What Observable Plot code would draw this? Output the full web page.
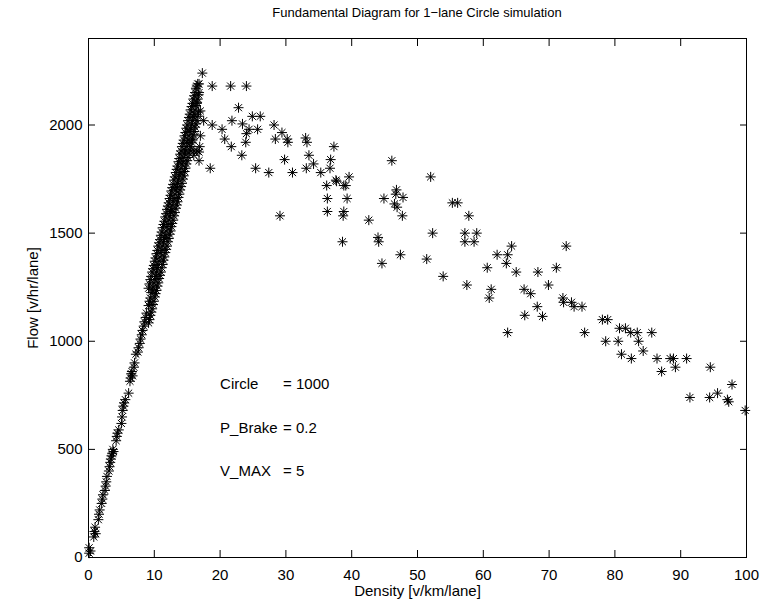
<!DOCTYPE html>
<html>
<head>
<meta charset="utf-8">
<script src="https://cdn.jsdelivr.net/npm/d3@7"></script>
<script src="https://cdn.jsdelivr.net/npm/@observablehq/plot@0.6"></script>
<style>
  html, body { margin: 0; padding: 0; background: #fff; }
  body { width: 776px; height: 602px; overflow: hidden; font-family: "Liberation Sans", Arial, sans-serif; }
  #title { height: 26px; line-height: 26px; margin-left: 88px; width: 658px; text-align: center; font-size: 13px; color: #000; }
  svg { display: block; }
</style>
</head>
<body>
<div id="title">Fundamental Diagram for 1−lane Circle simulation</div>
<div id="chart"></div>
<script>
// ---- data (density [v/km/lane], flow [v/hr/lane]) ----
// congested branch
const congestedDensity = [17.3,16.8,18.8,21.6,24.0,22.8,24.9,26.1,21.8,17.5,18.8,20.3,23.4,24.4,25.7,24.0,20.7,23.9,21.7,23.3,18.5,28.2,29.4,28.4,30.2,30.3,33.0,33.2,37.3,33.5,29.8,36.8,34.2,33.1,25.4,27.4,31.0,35.3,36.7,37.6,39.6,36.2,38.8,46.1,52.0,37.7,39.1,36.3,39.3,36.3,38.8,38.7,44.9,46.8,46.7,47.8,46.5,46.9,47.7,42.6,55.3,56.1,57.8,38.6,44.0,44.1,52.3,57.2,59.0,57.2,58.6,64.3,62.1,63.7,63.5,60.6,65.0,68.3,44.6,47.4,51.4,53.9,57.5,61.2,60.9,66.2,67.2,68.2,66.3,72.6,71.1,69.9,69.0,72.1,72.2,73.4,73.8,75.0,75.4,78.1,78.9,78.6,80.5,80.7,81.6,82.4,83.4,85.6,83.6,84.3,81.0,82.5,86.4,87.1,88.4,88.9,90.9,89.2,94.5,97.8,91.4,94.4,95.6,97.1,97.3,99.8,29.1,16.8,16.8,16.0,16.5,17.0,16.8,16.5,15.8,16.0,17.0,16.9,63.7];
const congestedFlow = [2240,2190,2180,2180,2180,2080,2040,2040,2020,2020,2000,1980,2005,1980,1980,1960,1935,1920,1900,1860,1800,2000,1965,1935,1935,1920,1940,1920,1900,1860,1840,1840,1820,1800,1800,1780,1780,1780,1800,1745,1760,1720,1720,1835,1760,1740,1720,1660,1660,1600,1600,1580,1660,1700,1680,1665,1635,1620,1580,1560,1640,1640,1580,1460,1480,1460,1500,1500,1500,1460,1460,1440,1400,1400,1360,1340,1320,1320,1360,1400,1380,1300,1260,1240,1200,1240,1220,1160,1120,1440,1340,1260,1115,1200,1180,1180,1160,1160,1040,1100,1100,1000,1000,1060,1060,1040,1040,1040,1000,955,940,920,920,860,920,920,920,880,880,800,740,740,760,730,720,680,1580,1875,1835,1880,2105,2065,2150,1880,1930,1860,1950,1900,1040];
// free-flow branch
const freeDensity = [0.1,0.1,0.3,0.8,0.9,1.0,1.1,1.5,1.6,1.7,2.0,2.1,2.2,2.5,2.6,2.7,2.8,3.1,3.2,3.3,3.4,3.5,3.6,3.7,3.8,4.2,4.3,4.4,4.6,5.0,5.1,5.2,5.3,5.4,5.6,6.1,6.3,6.4,6.5,6.6,6.7,6.9,7.0,7.2,7.5,7.6,7.8,7.9,8.1,8.2,8.4,8.5,8.7,8.8,
  9.13,9.13,9.13,9.27,9.27,9.27,9.4,9.4,9.4,9.53,9.53,9.53,9.67,9.67,9.67,9.8,9.8,9.8,9.93,9.93,9.93,10.07,10.07,10.07,10.2,10.2,10.2,10.33,10.33,10.33,10.47,10.47,10.47,10.6,10.6,10.6,10.73,10.73,10.73,10.87,10.87,10.87,11.0,11.0,11.0,11.13,11.13,11.13,11.27,11.27,11.27,11.4,11.4,11.4,11.53,11.53,11.53,11.67,11.67,11.67,11.8,11.8,11.8,11.93,11.93,11.93,12.07,12.07,12.07,12.2,12.2,12.2,12.33,12.33,12.33,12.47,12.47,12.47,12.6,12.6,12.6,12.73,12.73,12.73,12.87,12.87,12.87,13.0,13.0,13.0,13.13,13.13,13.13,13.27,13.27,13.27,13.4,13.4,13.4,13.53,13.53,13.53,13.67,13.67,13.67,13.8,13.8,13.8,13.93,13.93,13.93,14.07,14.07,14.07,14.2,14.2,14.2,14.33,14.33,14.33,14.47,14.47,14.47,14.6,14.6,14.6,14.73,14.73,14.73,14.87,14.87,14.87,15.0,15.0,15.0,15.13,15.13,15.13,15.27,15.27,15.27,15.4,15.4,15.4,15.53,15.53,15.53,15.67,15.67,15.67,15.8,15.8,15.8,15.93,15.93,15.93,16.07,16.07,16.07,16.2,16.2,16.2,16.33,16.33,16.33,16.47,16.47,16.47,16.6,16.6,16.6,16.73,16.73];
const freeFlow = [20,45,30,95,120,140,110,175,200,220,250,270,290,310,330,350,375,400,420,440,455,470,480,500,490,540,560,575,590,620,650,680,700,715,730,760,815,830,850,860,840,880,900,940,950,970,990,1010,1030,1050,1070,1090,1110,1130,
  1085,1165,1245,1100,1185,1265,1120,1200,1285,1135,1225,1300,1150,1240,1320,1170,1250,1335,1185,1270,1350,1205,1285,1370,1220,1300,1385,1235,1320,1405,1255,1340,1420,1270,1355,1440,1290,1370,1455,1305,1390,1470,1320,1410,1490,1340,1420,1505,1355,1440,1525,1375,1460,1540,1390,1480,1555,1410,1490,1575,1425,1510,1590,1440,1530,1610,1460,1540,1625,1475,1560,1640,1495,1580,1660,1510,1600,1675,1530,1610,1695,1545,1630,1710,1560,1650,1725,1580,1660,1745,1595,1680,1760,1615,1700,1780,1630,1710,1795,1645,1730,1810,1665,1750,1830,1680,1770,1845,1700,1780,1865,1715,1800,1880,1730,1820,1900,1750,1830,1915,1765,1850,1930,1785,1870,1950,1800,1880,1965,1820,1900,1985,1835,1920,2000,1850,1930,2020,1870,1950,2035,1885,1970,2050,1900,1980,2070,1920,2000,2085,1935,2020,2100,1955,2040,2120,1970,2050,2135,1990,2070,2150,2005,2090,2170,2020,2100,2180,2040,2120,2190,2060,2140];
// axis ticks
const xTicks = [0,10,20,30,40,50,60,70,80,90,100];
const yTicks = [0,500,1000,1500,2000];
// annotations
const noteNames = ["Circle", "P_Brake", "V_MAX"];
const noteValues = ["= 1000", "= 0.2", "= 5"];
const noteFlow = [800, 600, 400];
const noteDensity = 20;

const points = [
  ...freeDensity.map((d, i) => ({density: d, flow: freeFlow[i]})),
  ...congestedDensity.map((d, i) => ({density: d, flow: congestedFlow[i]}))
];
const notes = noteNames.map((n, i) => ({name: n, value: noteValues[i], flow: noteFlow[i], density: noteDensity}));

// MATLAB-style 8-arm asterisk
const asterisk8 = {
  draw(ctx, size) {
    const r = Math.sqrt(size / Math.PI);
    const s = r * Math.SQRT1_2;
    ctx.moveTo(-r, 0); ctx.lineTo(r, 0);
    ctx.moveTo(0, -r); ctx.lineTo(0, r);
    ctx.moveTo(-s, -s); ctx.lineTo(s, s);
    ctx.moveTo(-s, s); ctx.lineTo(s, -s);
  }
};

const plain = d => String(d);

const chart = Plot.plot({
  width: 776,
  height: 576,
  marginTop: 12,
  marginBottom: 45,
  marginLeft: 88,
  marginRight: 30,
  style: {fontFamily: "'Liberation Sans', Arial, sans-serif", fontSize: "15px", color: "#000", background: "#fff"},
  x: {domain: [0, 100]},
  y: {domain: [0, 2400]},
  marks: [
    Plot.axisX({anchor: "bottom", ticks: xTicks, tickSize: -7, tickPadding: 19, tickFormat: plain, label: null, fontSize: 15}),
    Plot.axisX({anchor: "top", ticks: xTicks, tickSize: -7, tickFormat: () => "", label: null}),
    Plot.axisY({anchor: "left", ticks: yTicks, tickSize: -7, tickPadding: 13, tickFormat: plain, label: null, fontSize: 15}),
    Plot.axisY({anchor: "right", ticks: yTicks, tickSize: -7, tickFormat: () => "", label: null}),
    Plot.dot(points, {x: "density", y: "flow", symbol: asterisk8, r: 5, stroke: "#000", fill: "none", strokeWidth: 1}),
    Plot.text(notes, {x: "density", y: "flow", text: "name", textAnchor: "start", fontSize: 15}),
    Plot.text(notes, {x: "density", y: "flow", text: "value", textAnchor: "start", dx: 63, fontSize: 15}),
    Plot.text(["Density [v/km/lane]"], {frameAnchor: "bottom", dy: 34, textAnchor: "middle", lineAnchor: "middle", fontSize: 15}),
    Plot.text(["Flow [v/hr/lane]"], {frameAnchor: "left", dx: -55, rotate: -90, textAnchor: "middle", lineAnchor: "middle", fontSize: 15}),
    Plot.frame({stroke: "#000", strokeWidth: 1})
  ]
});
document.getElementById("chart").appendChild(chart);
</script>
</body>
</html>
